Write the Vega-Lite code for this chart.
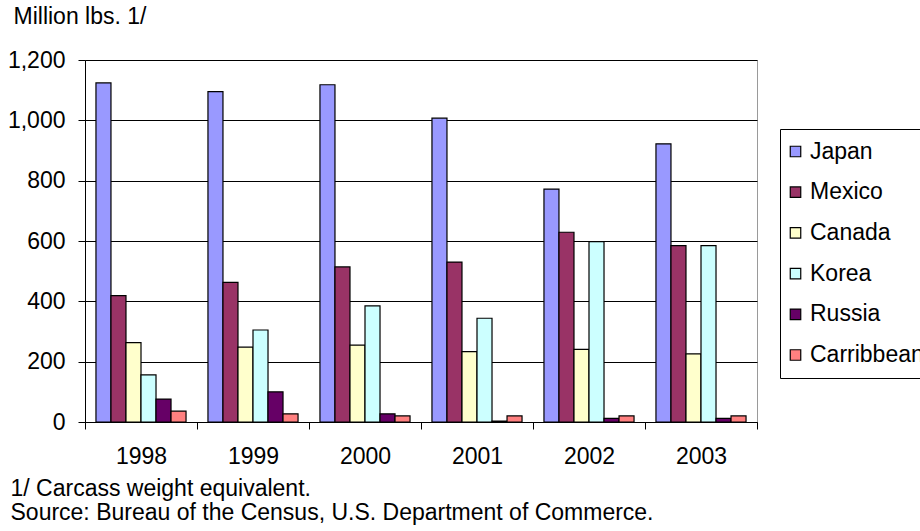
{
  "$schema": "https://vega.github.io/schema/vega-lite/v6.json",
  "autosize": "none",
  "width": 672,
  "height": 362,
  "padding": {"left": 85, "top": 60, "right": 163, "bottom": 109},
  "background": "white",
  "config": {
    "font": "Liberation Sans",
    "view": {"stroke": "#9a9a9a", "strokeWidth": 1},
    "axis": {"labelFont": "Liberation Sans", "titleFont": "Liberation Sans", "labelColor": "black", "titleColor": "black", "domainColor": "black", "tickColor": "black", "labelFontSize": 23, "titleFontSize": 23, "titleFontWeight": "normal"},
    "legend": {"labelFont": "Liberation Sans", "labelFontSize": 23, "labelColor": "black"}
  },
  "data": {
    "values": [
      {"year": "1998", "country": "Japan", "value": 1124},
      {"year": "1998", "country": "Mexico", "value": 419},
      {"year": "1998", "country": "Canada", "value": 263},
      {"year": "1998", "country": "Korea", "value": 156},
      {"year": "1998", "country": "Russia", "value": 76},
      {"year": "1998", "country": "Carribbean", "value": 36},
      {"year": "1999", "country": "Japan", "value": 1095},
      {"year": "1999", "country": "Mexico", "value": 463},
      {"year": "1999", "country": "Canada", "value": 248},
      {"year": "1999", "country": "Korea", "value": 305},
      {"year": "1999", "country": "Russia", "value": 100},
      {"year": "1999", "country": "Carribbean", "value": 27},
      {"year": "2000", "country": "Japan", "value": 1118},
      {"year": "2000", "country": "Mexico", "value": 514},
      {"year": "2000", "country": "Canada", "value": 255},
      {"year": "2000", "country": "Korea", "value": 385},
      {"year": "2000", "country": "Russia", "value": 27},
      {"year": "2000", "country": "Carribbean", "value": 20},
      {"year": "2001", "country": "Japan", "value": 1007},
      {"year": "2001", "country": "Mexico", "value": 530},
      {"year": "2001", "country": "Canada", "value": 233},
      {"year": "2001", "country": "Korea", "value": 344},
      {"year": "2001", "country": "Russia", "value": 3},
      {"year": "2001", "country": "Carribbean", "value": 20},
      {"year": "2002", "country": "Japan", "value": 772},
      {"year": "2002", "country": "Mexico", "value": 629},
      {"year": "2002", "country": "Canada", "value": 241},
      {"year": "2002", "country": "Korea", "value": 598},
      {"year": "2002", "country": "Russia", "value": 12},
      {"year": "2002", "country": "Carribbean", "value": 20},
      {"year": "2003", "country": "Japan", "value": 922},
      {"year": "2003", "country": "Mexico", "value": 585},
      {"year": "2003", "country": "Canada", "value": 226},
      {"year": "2003", "country": "Korea", "value": 585},
      {"year": "2003", "country": "Russia", "value": 12},
      {"year": "2003", "country": "Carribbean", "value": 20}
    ]
  },
  "mark": {"type": "bar", "stroke": "black", "strokeWidth": 1.2},
  "encoding": {
    "x": {
      "field": "year", "type": "nominal",
      "scale": {"paddingInner": 0, "paddingOuter": 0},
      "axis": {
        "labelAngle": 0, "tickBand": "extent", "tickSize": 7, "labelPadding": 16,
        "domainWidth": 1, "grid": false,
        "title": ["1/ Carcass weight equivalent.", "Source: Bureau of the Census, U.S. Department of Commerce."],
        "titleAnchor": "start", "titleAlign": "left", "titleBaseline": "top",
        "titleX": -75, "titleY": 55, "titleLineHeight": 24, "titleAngle": 0
      }
    },
    "xOffset": {
      "field": "country", "type": "nominal",
      "sort": ["Japan", "Mexico", "Canada", "Korea", "Russia", "Carribbean"],
      "scale": {"paddingInner": 0, "paddingOuter": 0.73}
    },
    "y": {
      "field": "value", "type": "quantitative",
      "scale": {"domain": [0, 1200], "nice": false},
      "axis": {
        "values": [0, 200, 400, 600, 800, 1000, 1200], "format": ",.0f",
        "tickSize": 7, "labelPadding": 13, "grid": true, "gridColor": "black", "gridOpacity": 1, "gridWidth": 1,
        "title": "Million lbs. 1/", "titleAngle": 0, "titleAlign": "left", "titleBaseline": "alphabetic",
        "titleX": -72, "titleY": -37, "titleAnchor": "start"
      }
    },
    "color": {
      "field": "country", "type": "nominal",
      "sort": ["Japan", "Mexico", "Canada", "Korea", "Russia", "Carribbean"],
      "scale": {
        "domain": ["Japan", "Mexico", "Canada", "Korea", "Russia", "Carribbean"],
        "range": ["#9999FF", "#993366", "#FFFFCC", "#CCFFFF", "#660066", "#FF8080"]
      },
      "legend": {
        "title": null, "orient": "none", "legendX": 695, "legendY": 69,
        "padding": 11, "strokeColor": "black", "fillColor": "white",
        "symbolType": "square", "symbolSize": 110, "symbolStrokeColor": "black", "symbolStrokeWidth": 1.2,
        "symbolOffset": -7, "labelOffset": 3, "rowPadding": 16.7
      }
    }
  }
}
